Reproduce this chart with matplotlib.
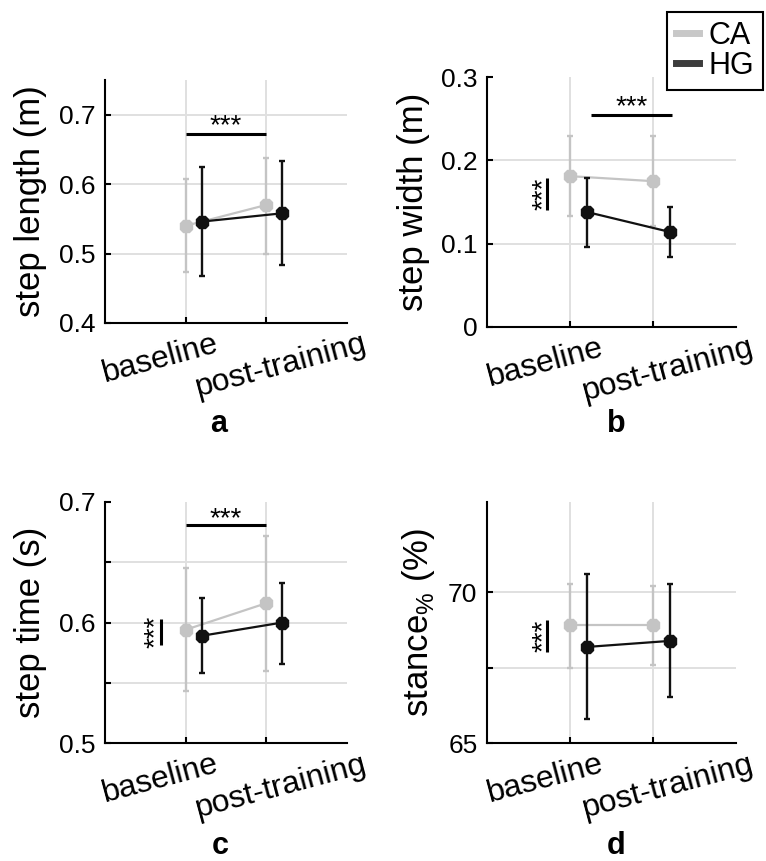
import matplotlib
matplotlib.use("Agg")

import matplotlib.pyplot as plt
from matplotlib.lines import Line2D
from matplotlib.transforms import ScaledTranslation

plt.rcParams["font.family"] = ["Liberation Sans", "DejaVu Sans"]
plt.rcParams["mathtext.fontset"] = "custom"
plt.rcParams["mathtext.rm"] = "Liberation Sans"

# data: values
conditions = ["baseline", "post-training"]
groups = ["CA", "HG"]

step_length_ca = [0.540, 0.570]
step_length_ca_lo = [0.473, 0.499]
step_length_ca_hi = [0.607, 0.637]
step_length_hg = [0.546, 0.558]
step_length_hg_lo = [0.467, 0.483]
step_length_hg_hi = [0.625, 0.634]

step_width_ca = [0.181, 0.175]
step_width_ca_lo = [0.133, 0.121]
step_width_ca_hi = [0.229, 0.229]
step_width_hg = [0.138, 0.114]
step_width_hg_lo = [0.096, 0.084]
step_width_hg_hi = [0.179, 0.144]

step_time_ca = [0.594, 0.616]
step_time_ca_lo = [0.543, 0.560]
step_time_ca_hi = [0.645, 0.672]
step_time_hg = [0.589, 0.600]
step_time_hg_lo = [0.558, 0.566]
step_time_hg_hi = [0.620, 0.633]

stance_ca = [68.92, 68.92]
stance_ca_lo = [67.50, 67.60]
stance_ca_hi = [70.29, 70.20]
stance_hg = [68.19, 68.39]
stance_hg_lo = [65.82, 66.53]
stance_hg_hi = [70.60, 70.29]

CA_COLOR = "#c4c4c4"
HG_COLOR = "#111111"
GRID_COLOR = "#e0e0e0"
HG_SHIFT = 0.2

fig = plt.figure(figsize=(7.66, 8.61), dpi=100)

ax_a = fig.add_axes([0.137, 0.6249, 0.316, 0.2822])
ax_b = fig.add_axes([0.636, 0.6206, 0.3247, 0.2897])
ax_c = fig.add_axes([0.137, 0.1367, 0.316, 0.2806])
ax_d = fig.add_axes([0.636, 0.1367, 0.3247, 0.2806])


def draw_panel(ax, ca, ca_lo, ca_hi, hg, hg_lo, hg_hi):
    x = [1, 2]
    x_hg = [v + HG_SHIFT for v in x]
    ca_err = [[m - l for m, l in zip(ca, ca_lo)], [h - m for m, h in zip(ca, ca_hi)]]
    hg_err = [[m - l for m, l in zip(hg, hg_lo)], [h - m for m, h in zip(hg, hg_hi)]]
    ax.errorbar(x, ca, yerr=ca_err, color=CA_COLOR, ecolor=CA_COLOR,
                elinewidth=1.7, capsize=2.2, capthick=1.7, linewidth=1.6,
                marker="8", markersize=10, zorder=3)
    ax.errorbar(x_hg, hg, yerr=hg_err, color=HG_COLOR, ecolor=HG_COLOR,
                elinewidth=1.7, capsize=2.2, capthick=1.7, linewidth=1.6,
                marker="8", markersize=10, zorder=4)


def style_axes(ax, ylim, yticks, ylabels, ylabel):
    ax.set_xlim(0, 3)
    ax.set_ylim(*ylim)
    ax.set_yticks(yticks)
    ax.set_yticklabels(ylabels, fontsize=19)
    ax.set_xticks([1, 2])
    ax.set_xticklabels(conditions, fontsize=23, rotation=15,
                       ha="center", va="center", rotation_mode="anchor")
    for spine in ["top", "right"]:
        ax.spines[spine].set_visible(False)
    for spine in ["left", "bottom"]:
        ax.spines[spine].set_linewidth(1.5)
    ax.tick_params(direction="in", length=4, width=1.5, pad=7)
    ax.tick_params(axis="x", pad=0)
    ax.grid(True, color=GRID_COLOR, linewidth=1.4)
    ax.set_axisbelow(True)
    # no gridline along the open top edge
    for tick, line in zip(yticks, ax.yaxis.get_gridlines()):
        if abs(tick - ylim[1]) < 1e-9 or abs(tick - ylim[0]) < 1e-9:
            line.set_visible(False)
    ax.set_ylabel(ylabel, fontsize=25, labelpad=8)
    # shift the rotated condition labels like the original
    offsets = [(-0.25, -0.36), (0.15, -0.43)]
    for lab, (dx, dy) in zip(ax.get_xticklabels(), offsets):
        lab.set_transform(lab.get_transform() + ScaledTranslation(dx, dy, fig.dpi_scale_trans))


def sig_horizontal(ax, x0, x1, y, text_y):
    ax.plot([x0, x1], [y, y], color="black", linewidth=2.2, solid_capstyle="butt")
    ax.text((x0 + x1) / 2, text_y, "***", ha="center", va="center", fontsize=20)


def sig_vertical(ax, x, y0, y1, text_x):
    ax.plot([x, x], [y0, y1], color="black", linewidth=2.2, solid_capstyle="butt")
    ax.text(text_x, (y0 + y1) / 2, "***", ha="center", va="center",
            fontsize=20, rotation=90)


# a: step length
draw_panel(ax_a, step_length_ca, step_length_ca_lo, step_length_ca_hi,
           step_length_hg, step_length_hg_lo, step_length_hg_hi)
style_axes(ax_a, (0.4, 0.75), [0.4, 0.5, 0.6, 0.7], ["0.4", "0.5", "0.6", "0.7"],
           "step length (m)")
sig_horizontal(ax_a, 1, 2, 0.672, 0.684)

# b: step width
draw_panel(ax_b, step_width_ca, step_width_ca_lo, step_width_ca_hi,
           step_width_hg, step_width_hg_lo, step_width_hg_hi)
style_axes(ax_b, (0, 0.3), [0, 0.1, 0.2, 0.3], ["0", "0.1", "0.2", "0.3"],
           "step width (m)")
sig_horizontal(ax_b, 1.25, 2.23, 0.255, 0.264)
sig_vertical(ax_b, 0.725, 0.140, 0.179, 0.68)

# c: step time
draw_panel(ax_c, step_time_ca, step_time_ca_lo, step_time_ca_hi,
           step_time_hg, step_time_hg_lo, step_time_hg_hi)
style_axes(ax_c, (0.5, 0.7), [0.5, 0.55, 0.6, 0.65, 0.7], ["0.5", "", "0.6", "", "0.7"],
           "step time (s)")
sig_horizontal(ax_c, 1, 2, 0.681, 0.6855)
sig_vertical(ax_c, 0.69, 0.581, 0.603, 0.63)

# d: stance percentage
draw_panel(ax_d, stance_ca, stance_ca_lo, stance_ca_hi,
           stance_hg, stance_hg_lo, stance_hg_hi)
style_axes(ax_d, (65, 73), [65, 67.5, 70], ["65", "", "70"],
           r"stance$_\mathrm{\%}$ (%)")
sig_vertical(ax_d, 0.725, 68.03, 69.08, 0.68)

# panel letters
for label, (px, py) in zip(["a", "b", "c", "d"],
                           [(219, 424), (616, 424), (220, 846), (616, 846)]):
    fig.text(px / 766, 1 - py / 861, label, ha="center", va="center",
             fontsize=22, fontweight="bold")

handles = [Line2D([], [], color="#c8c8c8", linewidth=5),
           Line2D([], [], color="#3c3c3c", linewidth=5)]
leg = fig.legend(handles, groups, loc="upper left",
                 bbox_to_anchor=(667 / 766, 1 - 12 / 861),
                 fontsize=22, frameon=True, fancybox=False, framealpha=1,
                 edgecolor="black", handlelength=0.75, handletextpad=0.3,
                 borderpad=0.3, labelspacing=0.0, borderaxespad=0)
leg.get_frame().set_linewidth(1.5)

fig.savefig("out.png", dpi=100)
plt.close(fig)
